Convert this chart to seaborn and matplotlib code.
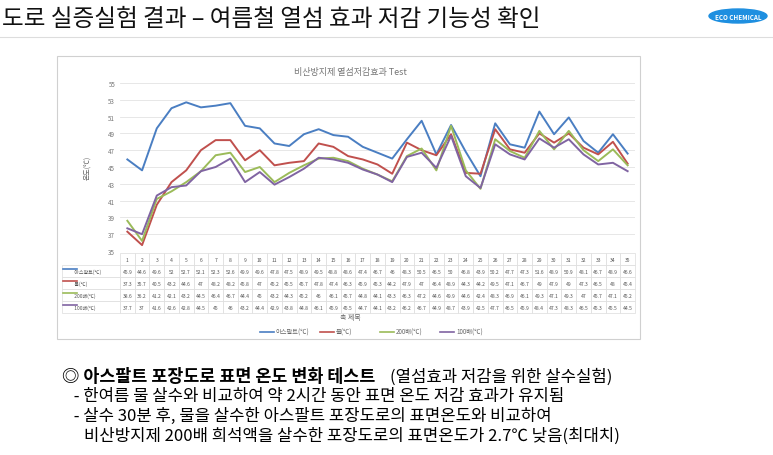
import matplotlib
matplotlib.use("Agg")
import matplotlib.pyplot as plt
from matplotlib import font_manager
from matplotlib.patches import Rectangle, Ellipse
import seaborn as sns
import pandas as pd

avail = {f.name for f in font_manager.fontManager.ttflist}
cands = ["Noto Sans CJK KR", "Noto Sans CJK JP", "Noto Sans CJK SC", "Noto Sans CJK TC"]
fam = [c for c in cands if c in avail] + ["DejaVu Sans"]
plt.rcParams["font.family"] = fam

days = list(range(1, 36))
asphalt = [45.9,44.6,49.6,52,52.7,52.1,52.3,52.6,49.9,49.6,47.8,47.5,48.9,49.5,48.8,48.6,47.4,46.7,46,48.3,50.5,46.5,50,46.8,43.9,50.2,47.7,47.3,51.6,48.9,50.9,48.1,46.7,48.9,46.6]
water = [37.3,35.7,40.5,43.2,44.6,47,48.2,48.2,45.8,47,45.2,45.5,45.7,47.8,47.4,46.3,45.9,45.3,44.2,47.9,47,46.4,48.9,44.3,44.2,49.5,47.1,46.7,49,47.9,49,47.3,46.5,48,45.4]
x200 = [38.6,36.2,41.2,42.1,43.2,44.5,46.4,46.7,44.4,45,43.2,44.3,45.2,46,46.1,45.7,44.8,44.1,43.3,46.3,47.2,44.6,49.9,44.6,42.4,48.3,46.9,46.1,49.3,47.1,49.3,47,45.7,47.1,45.2]
x100 = [37.7,37,41.6,42.6,42.8,44.5,45,46,43.2,44.4,42.9,43.8,44.8,46.1,45.9,45.5,44.7,44.1,43.2,46.2,46.7,44.9,48.7,43.9,42.5,47.7,46.5,45.9,48.4,47.3,48.3,46.5,45.3,45.5,44.5]
series_names = ["아스팔트(℃)", "물(℃)", "200배(℃)", "100배(℃)"]
colors = ["#4A7EC2", "#C0504D", "#9BBB59", "#8064A2"]

df = pd.DataFrame({"day": days * 4,
                   "val": asphalt + water + x200 + x100,
                   "s": sum([[n] * 35 for n in series_names], [])})

fig = plt.figure(figsize=(7.73, 4.56), dpi=100)
W, H = 773, 456

fig.text(2/W, 1-20/H, "도로 실증실험 결과 – 여름철 열섬 효과 저감 기능성 확인", fontsize=17, va="center", ha="left", color="#111111")
fig.add_artist(plt.Line2D([0, 1], [1-38/H, 1-38/H], color="#dddddd", lw=0.8))
fig.add_artist(Ellipse((738/W, 1-17/H), 58/W, 14/H, color="#1E8FE0"))
fig.text(738/W, 1-17/H, "ECO CHEMICAL", color="white", fontsize=4.5, ha="center", va="center", fontweight="bold")

fig.add_artist(Rectangle((57/W, 1-340/H), 583/W, 283/H, fill=False, edgecolor="#d0d0d0", lw=0.8))
fig.text(350/W, 1-72/H, "비산방지제 열섬저감효과 Test", fontsize=6.5, color="#777777", ha="center", va="center")

ax = fig.add_axes([120/W, 1-252/H, 515/W, 168/H])
sns.lineplot(data=df, x="day", y="val", hue="s", palette=colors, ax=ax, lw=1.4, legend=False)
ax.set_xlim(0.5, 35.5)
ax.set_ylim(35, 55)
ax.set_yticks(range(35, 56, 2))
ax.set_xticks([])
ax.set_xlabel("")
ax.set_ylabel("온도(℃)", fontsize=5, color="#666666", labelpad=12)
ax.tick_params(axis="y", labelsize=4.5, colors="#777777", length=0)
ax.grid(axis="y", color="#e3e3e3", lw=0.6)
for sp in ax.spines.values():
    sp.set_visible(False)

rows = [[""] + [str(d) for d in days]]
for n, vals in zip(series_names, [asphalt, water, x200, x100]):
    rows.append(["          " + n] + [f"{v:g}" for v in vals])
lw = 58 / 515
tbl = ax.table(cellText=rows, colWidths=[lw] + [1/35] * 35,
               bbox=[-lw, -62/168, 1 + lw, 60/168], cellLoc="center")
tbl.auto_set_font_size(False)
tbl.set_fontsize(3.6)
for (r, c), cell in tbl.get_celld().items():
    cell.set_edgecolor("#dcdcdc")
    cell.set_linewidth(0.5)
    cell.get_text().set_color("#555555")
    if c == 0:
        cell.get_text().set_ha("left")
        cell.PAD = 0.02
    if r == 0 and c == 0:
        cell.set_edgecolor("white")
for i, col in enumerate(colors):
    y = 1 - (252 + 12 * (i + 1) + 6) / H
    fig.add_artist(plt.Line2D([63/W, 77/W], [y, y], color=col, lw=1.2))

fig.text(350/W, 1-318/H, "축 제목", fontsize=5, color="#666666", ha="center", va="center")
lx = 260
for n, col in zip(series_names, colors):
    fig.add_artist(plt.Line2D([lx/W, (lx+14)/W], [1-333/H]*2, color=col, lw=1.2))
    fig.text((lx+16)/W, 1-333/H, n, fontsize=4.5, color="#666666", va="center")
    lx += 60

fig.text(62/W, 1-377/H, "◎ 아스팔트 포장도로 표면 온도 변화 테스트", fontsize=12.5, fontweight="bold", va="center")
fig.text(390/W, 1-377/H, "(열섬효과 저감을 위한 살수실험)", fontsize=12, va="center")
fig.text(70/W, 1-397/H, " - 한여름 물 살수와 비교하여 약 2시간 동안 표면 온도 저감 효과가 유지됨", fontsize=12, va="center")
fig.text(70/W, 1-416/H, " - 살수 30분 후, 물을 살수한 아스팔트 포장도로의 표면온도와 비교하여", fontsize=12, va="center")
fig.text(84/W, 1-436/H, "비산방지제 200배 희석액을 살수한 포장도로의 표면온도가 2.7℃ 낮음(최대치)", fontsize=12, va="center")

fig.savefig("out.png", dpi=100)
